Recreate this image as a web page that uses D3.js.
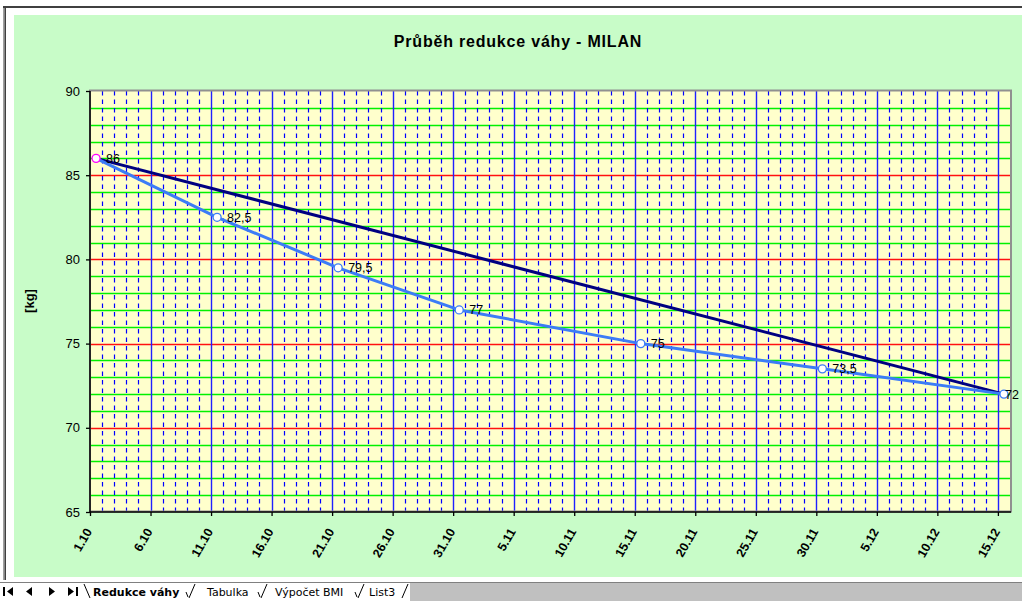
<!DOCTYPE html>
<html>
<head>
<meta charset="utf-8">
<script src="https://cdn.jsdelivr.net/npm/d3@7"></script>
<style>
  html, body { margin: 0; padding: 0; background: #ffffff; }
  svg { display: block; }
</style>
</head>
<body>
<svg id="chart" width="1022" height="603"></svg>
<script>
// Weigh-in dates and weights (kg)
const weighDates = ["1.10", "11.10", "21.10", "31.10", "15.11", "30.11", "15.12"];
const weights = [86, 82.5, 79.5, 77, 75, 73.5, 72];

// Straight target line from the starting weight to the goal
const targetDates = ["1.10", "15.12"];
const targetWeights = [86, 72];

// Axis ticks
const xTickLabels = ["1.10", "6.10", "11.10", "16.10", "21.10", "26.10", "31.10", "5.11",
  "10.11", "15.11", "20.11", "25.11", "30.11", "5.12", "10.12", "15.12"];
const yTickValues = [65, 70, 75, 80, 85, 90];

const sheetTabs = ["Redukce váhy", "Tabulka", "Výpočet BMI", "List3"];

const parseDay = s => d3.utcParse("%d.%m.%Y")(s + ".2006");
const noon = d => d3.utcHour.offset(d, 12);

const svg = d3.select("#chart");
const W = 1022, H = 603;

// Window frame
svg.append("rect").attr("x", 0).attr("y", 0).attr("width", W).attr("height", H).attr("fill", "#ffffff");
svg.append("rect").attr("x", 3).attr("y", 6).attr("width", 1.5).attr("height", 574).attr("fill", "#a0a0a0");
svg.append("rect").attr("x", 4.5).attr("y", 6).attr("width", 1.5).attr("height", 574).attr("fill", "#404040");
svg.append("rect").attr("x", 3).attr("y", 6).attr("width", W - 3).attr("height", 2).attr("fill", "#404040");

// Chart area
svg.append("rect").attr("x", 14).attr("y", 15).attr("width", W - 14).attr("height", 562).attr("fill", "#c8fcc8");

// Plot area
const plot = { left: 90, right: 1010, top: 91, bottom: 512 };

const x = d3.scaleUtc()
  .domain([parseDay(xTickLabels[0]), d3.utcDay.offset(parseDay(xTickLabels[xTickLabels.length - 1]), 1)])
  .range([plot.left, plot.right]);
const y = d3.scaleLinear().domain([65, 90]).range([plot.bottom, plot.top]);

svg.append("rect")
  .attr("x", plot.left).attr("y", plot.top)
  .attr("width", plot.right - plot.left).attr("height", plot.bottom - plot.top)
  .attr("fill", "#ffffcc");

const grid = svg.append("g");

// Horizontal gridlines: every kg, red at multiples of five
const kgLines = d3.range(66, 90);
grid.selectAll("line.h").data(kgLines).join("line")
  .attr("x1", plot.left).attr("x2", plot.right)
  .attr("y1", d => Math.round(y(d)) + 0.5).attr("y2", d => Math.round(y(d)) + 0.5)
  .attr("stroke", d => d % 5 === 0 ? "#ff1010" : "#00f000")
  .attr("stroke-width", 1.4);

// Vertical gridlines: each day dashed, every fifth day solid
const days = d3.utcDay.range(x.domain()[0], x.domain()[1]);
grid.selectAll("line.v").data(days.slice(1)).join("line")
  .attr("x1", d => Math.round(x(d)) + 0.5).attr("x2", d => Math.round(x(d)) + 0.5)
  .attr("y1", plot.top).attr("y2", plot.bottom)
  .attr("stroke", (d, i) => (i + 1) % 5 === 0 ? "#2020ff" : "#0000ff")
  .attr("stroke-width", (d, i) => (i + 1) % 5 === 0 ? 1.4 : 1.2)
  .attr("stroke-dasharray", (d, i) => (i + 1) % 5 === 0 ? null : "4.5,4");

// Plot border
svg.append("rect")
  .attr("x", plot.left).attr("y", plot.top - 0.5)
  .attr("width", plot.right - plot.left + 1).attr("height", plot.bottom - plot.top)
  .attr("fill", "none").attr("stroke", "#909090").attr("stroke-width", 2);

// Axes
const yAxis = d3.axisLeft(y).tickValues(yTickValues).tickSize(4).tickPadding(6);
const gy = svg.append("g").attr("transform", `translate(${plot.left},0)`).call(yAxis);
gy.select(".domain").attr("stroke", "#000").attr("stroke-width", 1.5).attr("d", `M0,${plot.top}V${plot.bottom}`);
gy.selectAll(".tick line").attr("stroke", "#000").attr("stroke-width", 1.3);
gy.selectAll(".tick text")
  .attr("font-family", "Arial, 'Liberation Sans', sans-serif").attr("font-size", "13px").attr("fill", "#000");

const xTicks = xTickLabels.map(parseDay);
const xAxis = d3.axisBottom(x).tickValues(xTicks).tickFormat(d3.utcFormat("%-d.%-m")).tickSize(4);
const gx = svg.append("g").attr("transform", `translate(0,${plot.bottom})`).call(xAxis);
gx.select(".domain").attr("stroke", "#000").attr("stroke-width", 1.5).attr("d", `M${plot.left},0H${plot.right + 1}`);
gx.selectAll(".tick line").attr("stroke", "#000").attr("stroke-width", 1.3);
gx.selectAll(".tick text")
  .attr("font-family", "Arial, 'Liberation Sans', sans-serif").attr("font-size", "12.5px")
  .attr("font-weight", "bold").attr("fill", "#000")
  .attr("text-anchor", "end").attr("x", 2).attr("y", 19.5).attr("dy", 0)
  .attr("transform", "rotate(-60,2,19.5)");

// Target line
const line = d3.line().x(d => x(noon(parseDay(d.date)))).y(d => y(d.kg));
const target = targetDates.map((d, i) => ({ date: d, kg: targetWeights[i] }));
svg.append("path").datum(target)
  .attr("d", line).attr("fill", "none").attr("stroke", "#000080").attr("stroke-width", 3);

// Actual weight
const actual = weighDates.map((d, i) => ({ date: d, kg: weights[i] }));
svg.append("path").datum(actual)
  .attr("d", line).attr("fill", "none").attr("stroke", "#3c7cf6").attr("stroke-width", 3)
  .attr("stroke-linejoin", "round");

svg.selectAll("circle.pt").data(actual).join("circle")
  .attr("cx", d => x(noon(parseDay(d.date)))).attr("cy", d => y(d.kg)).attr("r", 4)
  .attr("fill", "#ffffff")
  .attr("stroke", (d, i) => i === 0 ? "#ff00ff" : "#3c7cf6").attr("stroke-width", 1.3);

// Value labels, kept inside the chart area
svg.selectAll("text.lbl").data(actual).join("text")
  .attr("y", d => y(d.kg) + 4.5)
  .attr("font-family", "Arial, 'Liberation Sans', sans-serif").attr("font-size", "12.5px").attr("fill", "#000")
  .text(d => String(d.kg).replace(".", ","))
  .attr("x", function (d) {
    const px = x(noon(parseDay(d.date))) + 10;
    return Math.min(px, W - 3 - this.getComputedTextLength());
  });

// Titles
svg.append("text").attr("x", 518).attr("y", 47).attr("text-anchor", "middle")
  .attr("font-family", "Arial, 'Liberation Sans', sans-serif").attr("font-size", "16px")
  .attr("font-weight", "bold").attr("letter-spacing", "0.8px").attr("fill", "#000")
  .text("Průběh redukce váhy - MILAN");

svg.append("text").attr("transform", "translate(34,301) rotate(-90)").attr("text-anchor", "middle")
  .attr("font-family", "Arial, 'Liberation Sans', sans-serif").attr("font-size", "13px")
  .attr("font-weight", "bold").attr("fill", "#000")
  .text("[kg]");

// Sheet tab strip
const tabs = svg.append("g");
tabs.append("rect").attr("x", 0).attr("y", 582).attr("width", W).attr("height", 19).attr("fill", "#c0c0c0");
tabs.append("rect").attr("x", 0).attr("y", 582).attr("width", W).attr("height", 1).attr("fill", "#808080");
tabs.append("rect").attr("x", 0).attr("y", 583).attr("width", 410).attr("height", 18).attr("fill", "#ffffff");
tabs.append("rect").attr("x", 0).attr("y", 601).attr("width", W).attr("height", 2).attr("fill", "#ffffff");

// Navigation buttons
const nav = tabs.append("g").attr("fill", "#000");
nav.append("rect").attr("x", 3).attr("y", 587).attr("width", 2).attr("height", 9);
nav.append("path").attr("d", "M13,587L7,591.5L13,596Z");
nav.append("path").attr("d", "M32,587L26,591.5L32,596Z");
nav.append("path").attr("d", "M49,587L55,591.5L49,596Z");
nav.append("path").attr("d", "M68,587L74,591.5L68,596Z");
nav.append("rect").attr("x", 76).attr("y", 587).attr("width", 2).attr("height", 9);

// Tabs
const tabX = [93, 207, 275, 369];
const tabEnd = [189, 261, 358, 402];
tabs.selectAll("text.tab").data(sheetTabs).join("text")
  .attr("x", (d, i) => tabX[i]).attr("y", 596)
  .attr("font-family", "'DejaVu Sans', Verdana, sans-serif").attr("font-size", "11px")
  .attr("font-weight", (d, i) => i === 0 ? "bold" : "normal").attr("fill", "#000")
  .text(d => d);
tabs.append("path").attr("d", "M84,584L90,598").attr("stroke", "#000").attr("stroke-width", 1).attr("fill", "none");
tabs.selectAll("path.edge").data(tabEnd).join("path")
  .attr("d", d => `M${d},598L${d + 6},584`).attr("stroke", "#000").attr("stroke-width", 1).attr("fill", "none");
tabs.selectAll("path.back").data(tabEnd.slice(0, 3)).join("path")
  .attr("d", d => `M${d - 1},597L${d - 3},592`).attr("stroke", "#000").attr("stroke-width", 1).attr("fill", "none");
</script>
</body>
</html>
